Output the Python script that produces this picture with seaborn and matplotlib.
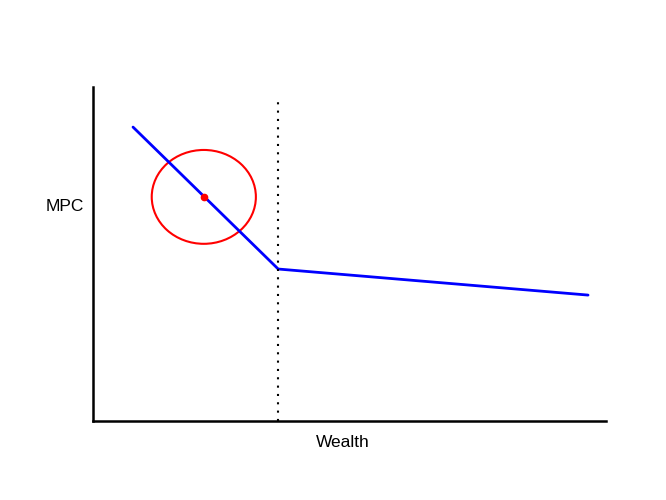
import numpy as np
import matplotlib
matplotlib.use("Agg")
import matplotlib.pyplot as plt
import seaborn as sns
from matplotlib.patches import Ellipse

# data (axes run 0..1 on both sides)
mpc_x = [0.078, 0.361, 0.965]
mpc_y = [0.880, 0.455, 0.377]
kink_x = 0.361
kink_ymin, kink_ymax = 0.0, 0.955
point_x = 0.216
point_y = 0.671
circle_w = 0.203
circle_h = 0.281

sns.set_style("white")
plt.rcParams['font.family'] = ['Liberation Sans', 'DejaVu Sans']
plt.rcParams['text.color'] = 'black'
plt.rcParams['axes.labelcolor'] = 'black'

fig = plt.figure(figsize=(6.66, 5.0), dpi=100)
ax = fig.add_axes([93/666, 1 - 421/500, (606 - 93)/666, (421 - 87)/500])

sns.lineplot(x=mpc_x, y=mpc_y, color="blue", linewidth=2, ax=ax, sort=False)
ax.plot([kink_x, kink_x], [kink_ymin, kink_ymax], color="black", linestyle=(0, (1, 3)), linewidth=1.5)
ax.add_patch(Ellipse((point_x, point_y), circle_w, circle_h, fill=False, edgecolor="red", linewidth=1.5))
ax.plot([point_x], [point_y], "o", color="red", markersize=4.5)

ax.set_xlim(0, 1)
ax.set_ylim(0, 1)
ax.set_xticks([])
ax.set_yticks([])
sns.despine(ax=ax)
for s in ["left", "bottom"]:
    ax.spines[s].set_linewidth(1.8)
    ax.spines[s].set_color("black")

ax.set_xlabel("Wealth", fontsize=12.5)
ax.xaxis.set_label_coords(0.486, -0.041)
ax.set_ylabel("MPC", fontsize=12.5, rotation=0)
ax.yaxis.set_label_coords(-0.054, 0.62)

fig.savefig("out.png", dpi=100)
